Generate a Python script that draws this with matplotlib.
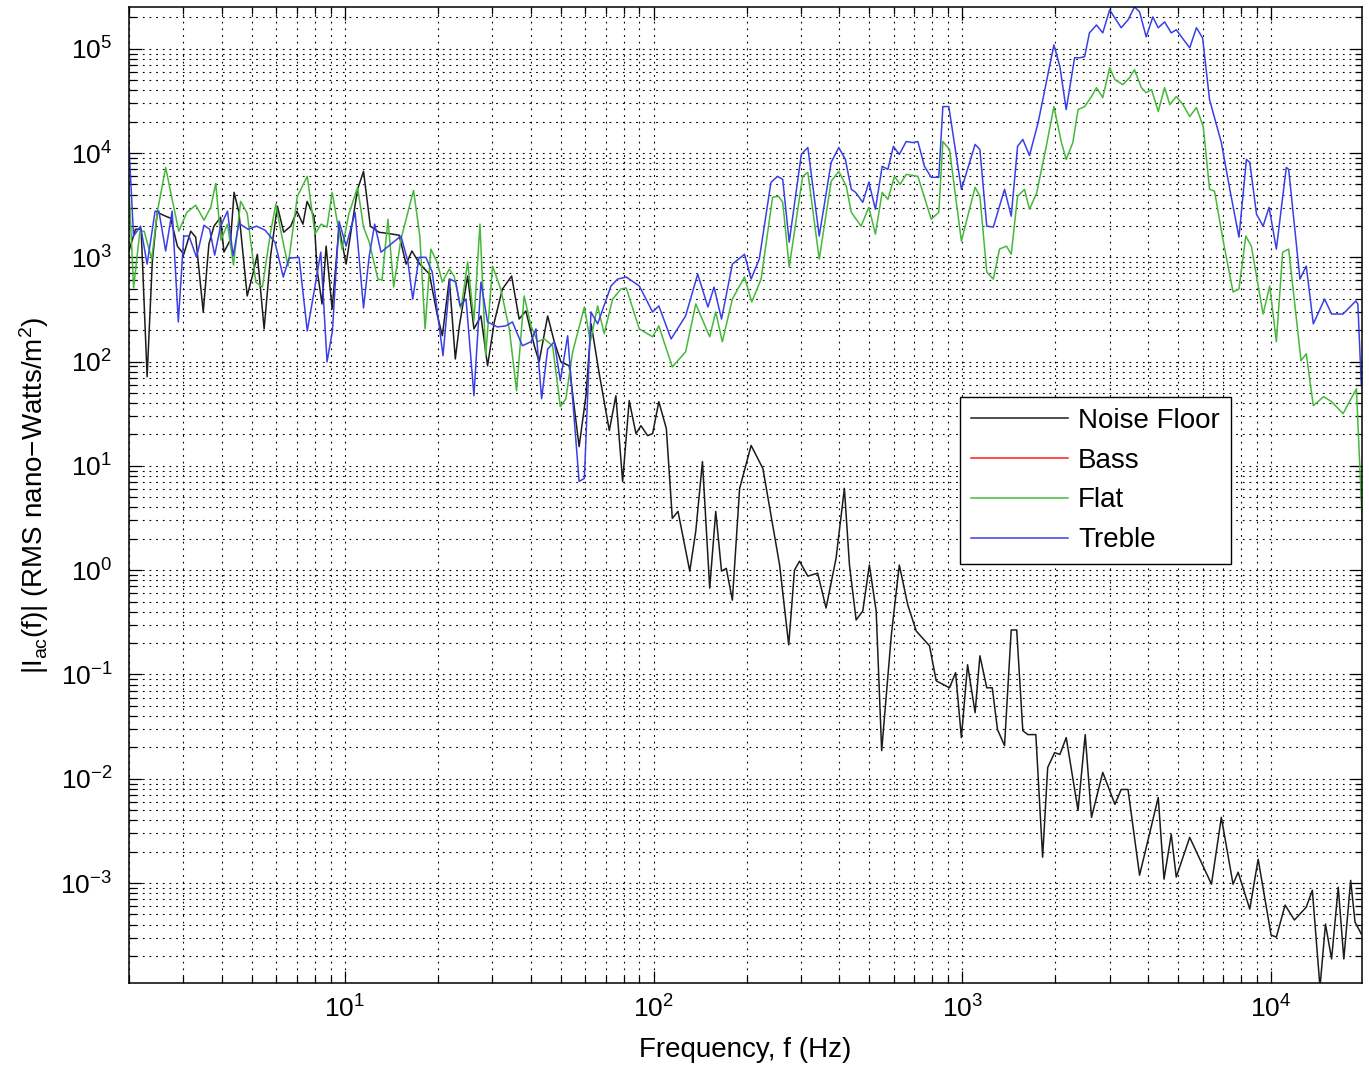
"""
plot.py - intensity spectra |I_ac(f)| for the noise floor and the EQ settings.

Log-log plot in the old MATLAB style: dotted major+minor grid, inward ticks
on all four sides, legend box on the right.
"""
import numpy as np
import matplotlib
matplotlib.use("Agg")
import matplotlib.pyplot as plt
from matplotlib.ticker import LogLocator, NullFormatter

plt.rcParams["font.family"] = ["Liberation Sans", "DejaVu Sans"]
plt.rcParams["mathtext.fontset"] = "custom"
plt.rcParams["mathtext.rm"] = "Liberation Sans"
plt.rcParams["mathtext.it"] = "Liberation Sans:italic"
plt.rcParams["mathtext.bf"] = "Liberation Sans:bold"

# ---------------------------------------------------------------------------
# Data
# ---------------------------------------------------------------------------

FREQ_NOISE = [
    2.00, 2.10, 2.19, 2.29, 2.38, 2.47, 2.63, 2.73, 2.87, 3.01,
    3.17, 3.29, 3.48, 3.63, 3.77, 3.96, 4.06, 4.27, 4.38, 4.54,
    4.83, 5.02, 5.21, 5.48, 5.75, 6.05, 6.34, 6.68, 7.00, 7.32,
    7.55, 7.95, 8.13, 8.44, 8.70, 9.10, 9.58, 10.1, 10.5, 11.0,
    11.5, 12.1, 12.9, 13.7, 15.0, 15.8, 16.5, 17.5, 18.8, 19.9,
    20.7, 21.8, 22.8, 23.5, 25.0, 26.2, 27.6, 29.0, 30.5, 32.4,
    34.7, 36.7, 38.6, 41.1, 42.6, 45.4, 47.7, 50.1, 53.3, 57.4,
    60.4, 62.8, 66.7, 71.9, 75.5, 79.4, 83.4, 87.7, 91.0, 95.7,
    99.3, 104, 110, 115, 120, 131, 137, 144, 152, 159,
    166, 172, 180, 190, 207, 226, 256, 274, 286, 297,
    316, 340, 362, 390, 415, 431, 453, 476, 500, 526,
    548, 589, 625, 666, 709, 783, 823, 909, 951, 993,
    1040, 1100, 1140, 1200, 1250, 1300, 1370, 1440, 1500, 1570,
    1630, 1730, 1820, 1890, 1990, 2070, 2170, 2370, 2500, 2620,
    2850, 3120, 3270, 3440, 3750, 4310, 4500, 4750, 4930, 5450,
    6410, 6900, 7530, 7820, 8530, 9080, 10000, 10400, 11100, 11900,
    13000, 13600, 14400, 15000, 15700, 16500, 17200, 18100, 18700, 19600,
]
NOISE_FLOOR = [
    1.15e3, 1.86e3, 1.86e3, 71.6, 900, 2.70e3, 2.48e3, 2.37e3, 1.28e3, 1.07e3,
    1.78e3, 1.56e3, 299, 1.34e3, 1.99e3, 2.42e3, 1.12e3, 1.49e3, 4.20e3, 2.70e3,
    426, 661, 1.07e3, 206, 1.03e3, 3.09e3, 1.74e3, 1.99e3, 2.77e3, 2.08e3,
    3.44e3, 2.48e3, 771, 357, 1.28e3, 320, 1.95e3, 861, 1.86e3, 4.49e3,
    6.67e3, 1.99e3, 1.74e3, 1.70e3, 1.63e3, 861, 1.15e3, 861, 690, 286,
    177, 619, 106, 220, 661, 206, 274, 91.2, 240, 497,
    661, 256, 306, 142, 99.6, 274, 155, 99.6, 91.2, 15.3,
    47.1, 230, 76.4, 21.8, 47.1, 7.10, 42.2, 20.4, 24.3, 19.5,
    20.4, 41.3, 22.8, 3.14, 3.66, 0.979, 2.36, 11.0, 0.673, 3.66,
    0.979, 1.04, 0.516, 6.08, 15.7, 9.44, 1.12, 0.192, 1.00, 1.22,
    0.877, 0.936, 0.434, 1.30, 6.08, 1.12, 0.333, 0.406, 1.12, 0.406,
    0.0186, 0.239, 1.12, 0.463, 0.261, 0.188, 0.0869, 0.0745, 0.104, 0.0248,
    0.124, 0.0430, 0.151, 0.0745, 0.0745, 0.0296, 0.0208, 0.267, 0.267, 0.0289,
    0.0265, 0.0265, 1.77e-3, 0.0128, 0.0178, 0.0171, 0.0248, 4.97e-3, 0.0265, 4.26e-3,
    0.0115, 5.68e-3, 7.89e-3, 7.89e-3, 1.19e-3, 6.61e-3, 1.09e-3, 2.93e-3, 1.14e-3, 2.74e-3,
    9.75e-4, 4.26e-3, 9.75e-4, 1.27e-3, 5.62e-4, 1.69e-3, 3.17e-4, 3.03e-4, 6.14e-4, 4.42e-4,
    5.87e-4, 8.53e-4, 1.0e-4, 4.04e-4, 1.87e-4, 9.12e-4, 1.87e-4, 1.06e-3, 4.22e-4, 3.24e-4,
]

FREQ_FLAT = [
    2.00, 2.07, 2.17, 2.24, 2.37, 2.47, 2.63, 2.76, 2.90, 3.08,
    3.29, 3.50, 3.68, 3.82, 3.97, 4.17, 4.36, 4.60, 4.83, 5.15,
    5.41, 5.75, 5.98, 6.19, 6.55, 7.02, 7.56, 8.01, 8.38, 8.76,
    9.10, 9.80, 10.3, 11.0, 11.5, 12.0, 12.8, 13.2, 13.8, 14.4,
    15.2, 16.7, 17.5, 18.2, 19.0, 19.9, 20.7, 21.8, 22.6, 23.8,
    25.0, 26.2, 27.4, 28.6, 30.1, 32.0, 34.1, 36.0, 38.1, 40.1,
    42.1, 44.3, 47.1, 49.9, 52.0, 54.7, 59.7, 62.4, 65.9, 69.2,
    73.7, 78.4, 81.6, 89.9, 99.3, 104, 115, 127, 137, 152,
    159, 167, 180, 197, 208, 223, 243, 254, 262, 275,
    304, 316, 344, 376, 398, 421, 437, 470, 498, 523,
    550, 574, 603, 629, 658, 718, 793, 839, 865, 909,
    993, 1100, 1140, 1200, 1260, 1320, 1390, 1440, 1510, 1590,
    1650, 1740, 1870, 1980, 2090, 2170, 2280, 2370, 2490, 2620,
    2720, 2850, 3000, 3120, 3310, 3480, 3610, 3800, 3940, 4100,
    4310, 4520, 4700, 4930, 5180, 5450, 5730, 6030, 6320, 6560,
    6980, 7530, 7870, 8280, 8630, 9420, 9900, 10400, 10900, 11400,
    12500, 13000, 13700, 14800, 15700, 17100, 18900, 19700,
]
FLAT = [
    4.80e3, 508, 1.78e3, 1.78e3, 961, 2.70e3, 7.28e3, 3.60e3, 1.78e3, 2.70e3,
    3.16e3, 2.27e3, 3.02e3, 5.12e3, 1.46e3, 2.08e3, 842, 3.44e3, 2.65e3, 579,
    519, 1.74e3, 3.23e3, 1.86e3, 824, 3.85e3, 5.97e3, 1.67e3, 2.08e3, 1.95e3,
    4.20e3, 1.20e3, 2.59e3, 4.69e3, 1.95e3, 1.40e3, 619, 605, 2.32e3, 519,
    1.49e3, 4.39e3, 1.60e3, 206, 1.20e3, 900, 579, 771, 661, 320,
    900, 245, 2.08e3, 114, 824, 497, 206, 52.6, 426, 220,
    155, 165, 142, 37.0, 44.1, 124, 334, 155, 342, 185,
    398, 497, 508, 206, 173, 220, 89.1, 124, 357, 173,
    299, 155, 398, 647, 373, 619, 3.77e3, 3.85e3, 3.37e3, 806,
    5.97e3, 6.53e3, 961, 5.36e3, 6.67e3, 4.80e3, 2.70e3, 1.99e3, 3.02e3, 1.67e3,
    4.20e3, 3.60e3, 5.97e3, 5.01e3, 6.24e3, 5.97e3, 2.32e3, 2.70e3, 1.29e4, 1.08e4,
    1.43e3, 4.69e3, 3.85e3, 722, 619, 1.20e3, 1.28e3, 1.07e3, 3.85e3, 4.49e3,
    2.89e3, 4.11e3, 1.16e4, 2.79e4, 1.29e4, 8.69e3, 1.26e4, 2.61e4, 2.79e4, 3.48e4,
    4.24e4, 3.40e4, 6.58e4, 5.06e4, 4.53e4, 5.28e4, 6.30e4, 4.24e4, 3.79e4, 4.06e4,
    2.50e4, 4.24e4, 2.92e4, 3.48e4, 2.92e4, 2.24e4, 2.73e4, 1.79e4, 4.49e3, 4.30e3,
    1.49e3, 465, 497, 1.60e3, 1.28e3, 286, 531, 155, 1.12e3, 1.20e3,
    102, 119, 37.8, 46.1, 41.3, 31.7, 55.0, 3.14,
]

FREQ_TREBLE = [
    2.00, 2.07, 2.18, 2.29, 2.43, 2.50, 2.63, 2.76, 2.89, 3.01,
    3.13, 3.31, 3.50, 3.65, 3.79, 3.96, 4.17, 4.35, 4.54, 4.86,
    5.18, 5.52, 5.94, 6.32, 6.60, 7.11, 7.56, 7.95, 8.36, 8.76,
    9.12, 9.58, 10.1, 10.8, 11.5, 12.0, 12.5, 13.1, 15.2, 16.0,
    16.6, 17.4, 18.3, 19.2, 20.8, 21.9, 22.9, 23.6, 24.7, 26.2,
    27.6, 29.0, 31.2, 33.2, 34.9, 37.6, 40.1, 41.6, 43.4, 45.4,
    47.7, 49.9, 52.7, 57.4, 59.7, 62.7, 65.9, 72.8, 76.5, 81.6,
    89.9, 99.3, 104, 114, 127, 139, 150, 157, 166, 180,
    197, 207, 220, 240, 252, 262, 275, 301, 316, 344,
    376, 398, 418, 437, 451, 476, 498, 523, 550, 574,
    598, 625, 658, 692, 718, 754, 793, 839, 865, 904,
    993, 1100, 1140, 1200, 1260, 1370, 1440, 1510, 1570, 1650,
    1760, 1870, 1980, 2070, 2170, 2310, 2400, 2490, 2580, 2720,
    2850, 3000, 3270, 3440, 3610, 3750, 3940, 4140, 4310, 4520,
    4750, 4930, 5450, 5730, 6000, 6320, 6900, 7350, 7870, 8320,
    8530, 8970, 9420, 9850, 10400, 11200, 11400, 12400, 13000, 13700,
    14900, 15700, 17100, 18800, 19100, 19600,
]
TREBLE = [
    1.16e4, 1.60e3, 1.99e3, 861, 2.77e3, 2.77e3, 1.15e3, 2.77e3, 240, 1.60e3,
    1.60e3, 1.00e3, 2.03e3, 1.86e3, 1.05e3, 1.99e3, 2.77e3, 1.03e3, 2.12e3, 1.86e3,
    1.99e3, 1.82e3, 1.40e3, 647, 982, 1.00e3, 197, 465, 1.12e3, 99.6,
    197, 2.22e3, 1.28e3, 2.70e3, 327, 1.03e3, 2.08e3, 1.12e3, 1.60e3, 920,
    398, 1.00e3, 1.00e3, 722, 114, 619, 579, 342, 398, 47.1,
    579, 240, 215, 220, 240, 142, 155, 206, 44.1, 132,
    155, 65.6, 177, 7.10, 7.59, 299, 230, 531, 619, 647,
    531, 299, 342, 165, 274, 690, 334, 519, 256, 861,
    1.07e3, 619, 961, 5.24e3, 5.97e3, 5.60e3, 1.40e3, 9.70e3, 1.13e4, 1.60e3,
    8.13e3, 1.13e4, 8.69e3, 4.49e3, 4.20e3, 3.37e3, 5.24e3, 2.89e3, 7.45e3, 6.97e3,
    1.16e4, 9.70e3, 1.29e4, 1.26e4, 1.29e4, 7.45e3, 5.85e3, 5.85e3, 2.79e4, 2.79e4,
    4.49e3, 1.21e4, 1.08e4, 1.99e3, 1.95e3, 4.49e3, 2.48e3, 1.16e4, 1.35e4, 9.48e3,
    1.96e4, 4.73e4, 1.09e5, 6.73e4, 2.61e4, 8.20e4, 8.20e4, 8.39e4, 1.42e5, 1.69e5,
    1.42e5, 2.36e5, 1.59e5, 1.89e5, 2.52e5, 2.26e5, 1.30e5, 2.02e5, 1.59e5, 1.81e5,
    1.42e5, 1.52e5, 1.02e5, 1.59e5, 1.27e5, 3.25e4, 1.26e4, 4.49e3, 1.56e3, 8.69e3,
    8.13e3, 2.59e3, 1.99e3, 3.02e3, 1.20e3, 7.28e3, 6.97e3, 619, 824, 230,
    398, 286, 286, 381, 357, 58.7,
]

SERIES_LABELS = ["Noise Floor", "Bass", "Flat", "Treble"]
SERIES_COLORS = ["#1c1c1c", "#ff1a1a", "#46b93a", "#3a40e6"]

X_LIMITS = (2.0, 1.97e4)
Y_LIMITS = (1.1e-4, 2.5e5)
X_DECADES = np.arange(1, 5)      # labelled decades 10^1 .. 10^4
Y_DECADES = np.arange(-3, 6)     # labelled decades 10^-3 .. 10^5

# ---------------------------------------------------------------------------
# Figure
# ---------------------------------------------------------------------------

fig = plt.figure(figsize=(13.69, 10.68), dpi=100)
ax = fig.add_axes([0.0942, 0.0796, 0.9007, 0.9136])

ax.plot(FREQ_NOISE, NOISE_FLOOR, color=SERIES_COLORS[0], linewidth=1.1, label=SERIES_LABELS[0])
ax.plot([], [], color=SERIES_COLORS[1], linewidth=1.1, label=SERIES_LABELS[1])  # bass: no visible trace
ax.plot(FREQ_FLAT, FLAT, color=SERIES_COLORS[2], linewidth=1.1, label=SERIES_LABELS[2])
ax.plot(FREQ_TREBLE, TREBLE, color=SERIES_COLORS[3], linewidth=1.1, label=SERIES_LABELS[3])

ax.set_xscale("log")
ax.set_yscale("log")
ax.set_xticks(10.0 ** X_DECADES)
ax.set_yticks(10.0 ** Y_DECADES)
for axis in (ax.xaxis, ax.yaxis):
    axis.set_minor_locator(LogLocator(base=10, subs=np.arange(2, 10), numticks=20))
    axis.set_minor_formatter(NullFormatter())
ax.set_xlim(*X_LIMITS)
ax.set_ylim(*Y_LIMITS)

ax.grid(True, which="both", color="black", linestyle=(0, (1.6, 4.4)), linewidth=0.8)
ax.set_axisbelow(True)

ax.tick_params(which="both", direction="in", top=True, right=True, width=0.9)
ax.tick_params(which="major", length=9, labelsize=19)
ax.tick_params(axis="x", which="major", pad=9)
ax.tick_params(axis="y", which="major", pad=12)
ax.tick_params(which="minor", length=5)
for spine in ax.spines.values():
    spine.set_linewidth(1.1)

ax.set_xlabel("Frequency, f (Hz)", fontsize=20, labelpad=10)
ax.set_ylabel(r"|I$_\mathrm{ac}$(f)| (RMS nano−Watts/m$^2$)", fontsize=20, labelpad=7)

leg = ax.legend(
    loc="upper left", bbox_to_anchor=(0.674, 0.601),
    fontsize=20, handlelength=3.5, handletextpad=0.35,
    labelspacing=0.5, borderpad=0.4, borderaxespad=0.0,
    fancybox=False, framealpha=1, edgecolor="black",
)
leg.get_frame().set_linewidth(1.0)

fig.savefig("out.png", dpi=100)
plt.close(fig)
